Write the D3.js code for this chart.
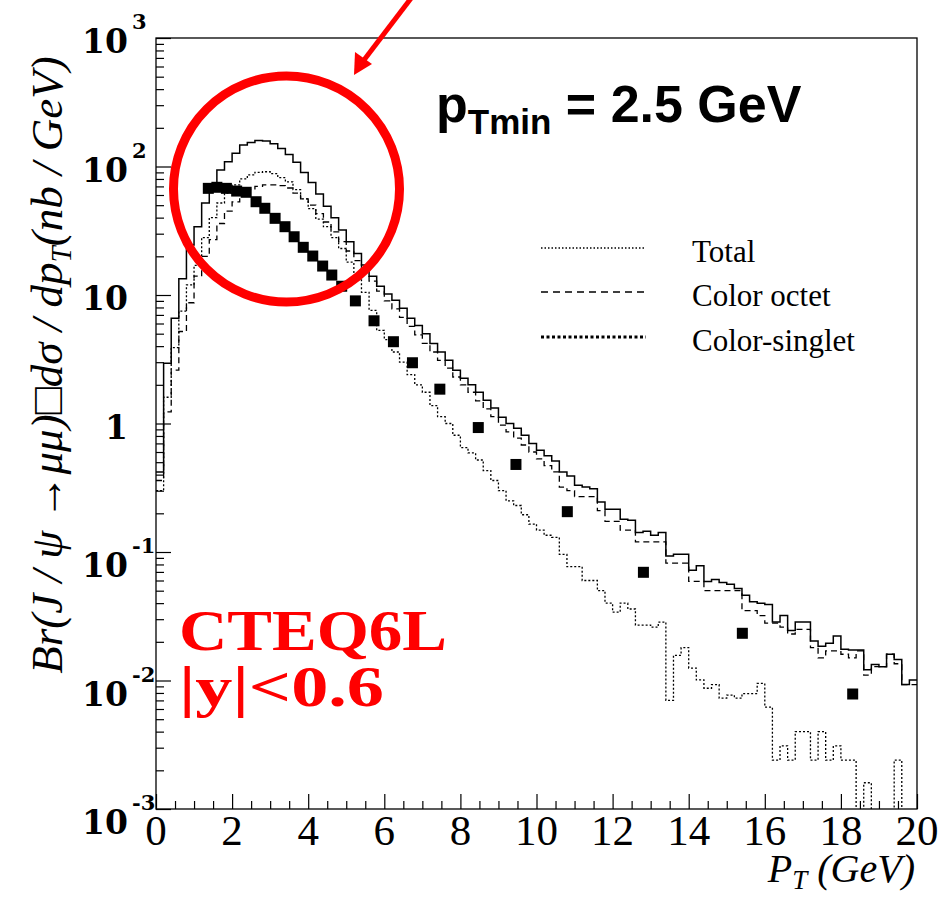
<!DOCTYPE html>
<html>
<head>
<meta charset="utf-8">
<script src="https://cdn.jsdelivr.net/npm/d3@7/dist/d3.min.js"></script>
<style>
  body { margin: 0; background: #fff; }
  svg { display: block; }
</style>
</head>
<body>
<div id="chart"></div>
<script>
// J/psi pT spectrum, CTEQ6L, |y|<0.6 -- histograms are 0.2 GeV bins from 0 to 20 GeV
const binWidth = 0.2;

// total (solid)
const totalHist = [
  0.42, 2.95, 6.6, 13.4, 24.5, 34, 52, 68, 94, 109,
  127, 147, 154, 159, 158, 150, 138, 124, 108, 90,
  75, 61, 49, 40, 32, 26, 21, 17.1, 14, 11.7,
  10.2, 9.1, 7.9, 6.6, 5.8, 5.0, 4.2, 3.6, 3.1, 2.6,
  2.25, 2.0, 1.75, 1.52, 1.32, 1.12, 1.0, 0.92, 0.81, 0.70,
  0.62, 0.56, 0.51, 0.42, 0.39, 0.33, 0.32, 0.31, 0.245, 0.215,
  0.215, 0.18, 0.177, 0.142, 0.145, 0.135, 0.142, 0.093, 0.096, 0.096,
  0.072, 0.078, 0.059, 0.061, 0.058, 0.056, 0.052, 0.046, 0.041, 0.040,
  0.039, 0.0285, 0.032, 0.0245, 0.0285, 0.0285, 0.0203, 0.0185, 0.0195, 0.0222,
  0.0175, 0.0173, 0.0173, 0.0121, 0.0133, 0.0128, 0.0160, 0.0146, 0.0093, 0.0101
];

// color octet (dashed)
const octetHist = [
  0.36, 1.23, 2.6, 5.2, 8.7, 14, 20, 27, 36, 45,
  53, 60, 66, 70, 72, 72, 71, 68, 62, 56,
  50, 43, 37, 31, 26, 22, 18.5, 15.5, 12.8, 10.7,
  9.0, 7.8, 6.7, 5.7, 4.9, 4.2, 3.6, 3.1, 2.7, 2.3,
  2.0, 1.75, 1.5, 1.3, 1.13, 0.97, 0.86, 0.77, 0.68, 0.60,
  0.53, 0.47, 0.42, 0.32, 0.30, 0.27, 0.27, 0.27, 0.21, 0.173,
  0.173, 0.148, 0.148, 0.12, 0.12, 0.12, 0.12, 0.082, 0.082, 0.082,
  0.059, 0.059, 0.05, 0.05, 0.05, 0.05, 0.05, 0.035, 0.035, 0.032,
  0.028, 0.028, 0.026, 0.023, 0.025, 0.025, 0.018, 0.015, 0.017, 0.017,
  0.016, 0.015, 0.017, 0.011, 0.0128, 0.0128, 0.016, 0.0135, 0.0093, 0.0093
];

// color singlet (dotted); 0 = empty bin
const singletHist = [
  0.30, 1.6, 3.9, 7.5, 12, 17, 28, 40, 52, 62,
  72, 80, 86, 90, 91, 88, 82, 76, 66, 56,
  47, 39, 34, 28, 23, 18, 14, 10.5, 7.6, 5.3,
  4.5, 3.6, 3.0, 2.4, 2.0, 1.75, 1.38, 1.13, 1.0, 0.81,
  0.65, 0.59, 0.52, 0.43, 0.36, 0.30, 0.25, 0.23, 0.195, 0.165,
  0.148, 0.135, 0.13, 0.096, 0.077, 0.077, 0.06, 0.06, 0.05, 0.04,
  0.034, 0.040, 0.036, 0.027, 0.027, 0.026, 0.0285, 0.007, 0.0157, 0.018,
  0.0125, 0.0101, 0.0087, 0.0093, 0.0073, 0.0077, 0.0073, 0.0079, 0.0079, 0.0095,
  0.0062, 0.0024, 0.0031, 0.0024, 0.0040, 0.0040, 0.0024, 0.0040, 0.0024, 0.0031,
  0.0024, 0.0024, 0, 0.0016, 0, 0, 0, 0.0024, 0, 0
];

// data points (filled squares)
const dataPt = [1.375, 1.6, 1.85, 2.12, 2.37, 2.63, 2.86, 3.13, 3.39, 3.63, 3.87, 4.12, 4.38, 4.62, 4.88,
                5.24, 5.73, 6.24, 6.74, 7.46, 8.47, 9.46, 10.81, 12.81, 15.41, 18.31];
const dataVal = [67.6, 68.9, 67.6, 64.4, 63, 53.2, 47.3, 39.5, 34, 28.4, 23.5, 20.1, 16.8, 14.3, 11.7,
                 9.0, 6.3, 4.33, 2.97, 1.85, 0.93, 0.48, 0.206, 0.0695, 0.0233, 0.00785];

const xMajor = [0, 2, 4, 6, 8, 10, 12, 14, 16, 18, 20];
const yMajor = [1e-3, 1e-2, 1e-1, 1, 10, 100, 1000];
const yLabelBase = ["10", "10", "10", "1", "10", "10", "10"];
const yLabelExp = ["-3", "-2", "-1", "", "", "2", "3"];

const legendNames = ["Total", "Color octet", "Color-singlet"];

const W = 950, H = 897;
const svg = d3.select("#chart").append("svg").attr("width", W).attr("height", H);

const x = d3.scaleLinear().domain([0, 20]).range([156, 917]);
const y = d3.scaleLog().domain([1e-3, 1e3]).range([809, 38]);

// minor ticks
const xMinor = d3.range(0, 41).map(i => i * 0.5).filter(v => v % 2 !== 0);
const yMinor = [];
for (let e = -3; e < 3; e++) for (let k = 2; k <= 9; k++) yMinor.push(k * Math.pow(10, e));

function styleAxis(g) {
  g.select(".domain").remove();
  g.selectAll("line").attr("stroke", "#000").attr("stroke-width", 1.2);
  g.selectAll("text").remove();
}

svg.append("g").attr("transform", "translate(156,0)")
  .call(d3.axisRight(y).tickValues(yMajor).tickSize(15)).call(styleAxis);
svg.append("g").attr("transform", "translate(156,0)")
  .call(d3.axisRight(y).tickValues(yMinor).tickSize(8)).call(styleAxis);
svg.append("g").attr("transform", "translate(0,809)")
  .call(d3.axisTop(x).tickValues(xMajor).tickSize(15)).call(styleAxis);
svg.append("g").attr("transform", "translate(0,809)")
  .call(d3.axisTop(x).tickValues(xMinor).tickSize(8)).call(styleAxis);

// clip for histograms
svg.append("clipPath").attr("id", "plotclip")
  .append("rect").attr("x", 156).attr("y", 38).attr("width", 761).attr("height", 771);

function stepPath(vals) {
  const yy = v => v > 0 ? y(v) : 830;
  let d = "";
  vals.forEach((v, i) => {
    const x0 = x(i * binWidth), x1 = x((i + 1) * binWidth);
    d += (i === 0 ? "M" : "L") + x0 + "," + yy(v) + "L" + x1 + "," + yy(v);
  });
  return d;
}

const plot = svg.append("g").attr("clip-path", "url(#plotclip)");
plot.append("path").attr("d", stepPath(singletHist))
  .attr("fill", "none").attr("stroke", "#000").attr("stroke-width", 1.3)
  .attr("stroke-dasharray", "2,2");
plot.append("path").attr("d", stepPath(octetHist))
  .attr("fill", "none").attr("stroke", "#000").attr("stroke-width", 1.3)
  .attr("stroke-dasharray", "6,4");
plot.append("path").attr("d", stepPath(totalHist))
  .attr("fill", "none").attr("stroke", "#000").attr("stroke-width", 1.5);

plot.selectAll("rect.pt").data(dataPt).enter().append("rect")
  .attr("class", "pt")
  .attr("x", (d) => x(d) - 5.5)
  .attr("y", (d, i) => y(dataVal[i]) - 5.5)
  .attr("width", 11).attr("height", 11)
  .attr("fill", "#000");

// frame
svg.append("rect").attr("x", 156).attr("y", 38).attr("width", 761).attr("height", 771)
  .attr("fill", "none").attr("stroke", "#000").attr("stroke-width", 1.3);

// y tick labels
const yl = svg.append("g").attr("font-family", "'DejaVu Serif', serif").attr("font-weight", "bold");
yMajor.forEach((v, i) => {
  const neg = yLabelExp[i].startsWith("-");
  const base = y(v) + (neg ? 25 : 15);
  yl.append("text").attr("text-anchor", "end").attr("font-size", 33)
    .attr("x", 128).attr("y", base).text(yLabelBase[i]);
  if (yLabelExp[i]) {
    yl.append("text").attr("x", 132).attr("y", base - 24).attr("font-size", 21)
      .text(yLabelExp[i]);
  }
});

// x tick labels
const xl = svg.append("g").attr("font-family", "'Liberation Serif', 'Times New Roman', serif");
xMajor.forEach(v => {
  xl.append("text").attr("x", x(v)).attr("y", 845).attr("text-anchor", "middle")
    .attr("font-size", 43).text(v);
});

// x axis title
const xt = svg.append("text").attr("x", 915).attr("y", 882).attr("text-anchor", "end")
  .attr("font-family", "'Liberation Serif', serif").attr("font-style", "italic").attr("font-size", 40);
xt.append("tspan").text("P");
xt.append("tspan").attr("font-size", 27).attr("dy", 7).text("T");
xt.append("tspan").attr("dy", -7).text(" (GeV)");

// y axis title
const yt = svg.append("text").attr("transform", "translate(62,365) rotate(-90)")
  .attr("text-anchor", "middle")
  .attr("font-family", "'Liberation Serif', serif").attr("font-style", "italic").attr("font-size", 45);
yt.append("tspan").text("Br(J / ψ →μμ)□dσ / dp");
yt.append("tspan").attr("font-size", 29).attr("dy", 9).text("T");
yt.append("tspan").attr("dy", -9).text("(nb / GeV)");

// legend
const legY = [248, 292, 337];
const legDash = ["1.5,2", "7,5", "3,2.5"];
const legW = [1.3, 1.5, 3.2];
legendNames.forEach((n, i) => {
  svg.append("line").attr("x1", 541).attr("x2", 646).attr("y1", legY[i]).attr("y2", legY[i])
    .attr("stroke", "#000").attr("stroke-width", legW[i]).attr("stroke-dasharray", legDash[i]);
  svg.append("text").attr("x", 692).attr("y", legY[i] + 14)
    .attr("font-family", "'Liberation Serif', serif").attr("font-size", 31).text(n);
});

// pTmin annotation
const pt = svg.append("text").attr("x", 436).attr("y", 122)
  .attr("font-family", "'Liberation Sans', Arial, sans-serif").attr("font-weight", "bold")
  .attr("font-size", 52);
pt.append("tspan").text("p");
pt.append("tspan").attr("font-size", 35).attr("dy", 12).text("Tmin");
pt.append("tspan").attr("dy", -12).text(" = 2.5 GeV");

// CTEQ6L label
const red = "#ff0000";
const ct = svg.append("g").attr("font-family", "'Liberation Serif', serif").attr("font-weight", "bold")
  .attr("fill", red).attr("font-size", 56);
ct.append("text").attr("x", 179).attr("y", 650).attr("textLength", 268)
  .attr("lengthAdjust", "spacingAndGlyphs").text("CTEQ6L");
ct.append("text").attr("x", 179).attr("y", 706).attr("textLength", 205)
  .attr("lengthAdjust", "spacingAndGlyphs").text("|y|<0.6");

// red circle + arrow
svg.append("circle").attr("cx", 286.5).attr("cy", 189).attr("r", 113)
  .attr("fill", "none").attr("stroke", red).attr("stroke-width", 9);
svg.append("line").attr("x1", 412).attr("y1", -3).attr("x2", 364).attr("y2", 60)
  .attr("stroke", red).attr("stroke-width", 5);
svg.append("path").attr("d", "M354,75 L355,52 L372,64 Z").attr("fill", red);
</script>
</body>
</html>
